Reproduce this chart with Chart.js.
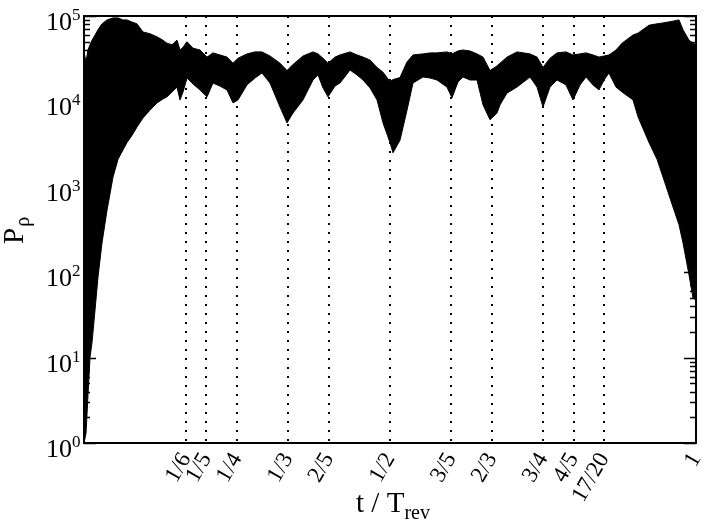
<!DOCTYPE html>
<html>
<head>
<meta charset="utf-8">
<script src="https://cdn.jsdelivr.net/npm/chart.js@4"></script>
<style>
  html, body { margin: 0; padding: 0; background: #fff; }
  #wrap { width: 706px; height: 522px; }
</style>
</head>
<body>
<div id="wrap"><canvas id="chart" width="706" height="522"></canvas></div>
<script>
// t / T_rev sample positions
const tVals = [0, 0.0033, 0.0065, 0.0098, 0.0131, 0.018, 0.0229, 0.0294, 0.0376, 0.0474,
  0.0556, 0.0637, 0.0703, 0.0784, 0.0866, 0.0964, 0.1078, 0.1193, 0.1291, 0.1356,
  0.1438, 0.152, 0.1569, 0.1618, 0.1683, 0.1781, 0.1895, 0.201, 0.2108, 0.2222,
  0.2337, 0.2435, 0.2516, 0.2663, 0.2794, 0.2908, 0.3039, 0.3203, 0.3317, 0.3415,
  0.3578, 0.3742, 0.3824, 0.3905, 0.3987, 0.4101, 0.4183, 0.4346, 0.4461, 0.4559,
  0.4673, 0.4788, 0.4886, 0.5, 0.5049, 0.5163, 0.5278, 0.5376, 0.5539, 0.5654,
  0.5768, 0.5931, 0.6013, 0.6111, 0.6193, 0.6307, 0.6422, 0.652, 0.6634, 0.6748,
  0.6797, 0.6912, 0.7075, 0.7288, 0.7402, 0.75, 0.7614, 0.7729, 0.7876, 0.799,
  0.8105, 0.8203, 0.8317, 0.8415, 0.8497, 0.8578, 0.8693, 0.8791, 0.8971, 0.9052,
  0.9232, 0.9363, 0.9461, 0.9624, 0.9722, 0.9788, 0.9886, 0.9951, 1];

// upper envelope of P_rho
const upperVals = [38000, 29000, 40000, 46000, 52000, 60000, 69000, 81000, 90000, 95000,
  95000, 90000, 90000, 85000, 81000, 65000, 62000, 57000, 52000, 48000,
  46000, 52000, 40000, 43000, 50000, 42000, 40000, 33000, 37000, 35000,
  33000, 28000, 32000, 36000, 38000, 38000, 34000, 28000, 23000, 27000,
  34000, 38000, 36000, 32000, 28000, 33000, 35000, 38000, 35000, 33000,
  30500, 25000, 22000, 17000, 18000, 19000, 29000, 35000, 36000, 37000,
  37000, 38000, 36000, 39000, 40000, 39000, 36000, 33000, 23000, 26000,
  28000, 33000, 38000, 36000, 33000, 25000, 32000, 37000, 38000, 35000,
  36000, 37000, 35000, 33000, 34000, 35000, 40000, 48000, 60000, 63000,
  78000, 81000, 83000, 87000, 90000, 69000, 52000, 48000, 46000];

// lower envelope of P_rho
const lowerVals = [1, 1.3, 3.6, 10, 15, 36, 88, 220, 530, 1300,
  2100, 2700, 3300, 4000, 5000, 6400, 7900, 9600, 10700, 11300,
  12900, 14700, 10400, 12900, 18800, 16000, 13600, 11300, 16400, 15100,
  13600, 9600, 10400, 15600, 18800, 21500, 16400, 8600, 5600, 7300,
  10400, 17800, 20400, 14400, 11300, 15100, 16400, 23300, 20400, 17800,
  14400, 10400, 5600, 3300, 2500, 3500, 7900, 16400, 19300, 18800,
  17800, 14700, 11000, 16900, 19300, 17800, 17800, 9100, 6100, 7300,
  9100, 12500, 14700, 19300, 14700, 8600, 14700, 17800, 15600, 10400,
  15600, 19300, 15600, 13600, 17800, 21500, 14700, 12900, 10400, 6600,
  3300, 2100, 1300, 580, 360, 220, 93, 50, 47];

// fractional revival times (dotted lines) and their labels
const fracTicks = [1/6, 1/5, 1/4, 1/3, 2/5, 1/2, 3/5, 2/3, 3/4, 4/5, 17/20, 1];
const fracLabels = ['1/6', '1/5', '1/4', '1/3', '2/5', '1/2', '3/5', '2/3', '3/4', '4/5', '17/20', '1'];

// decades on the y axis
const yExps = [0, 1, 2, 3, 4, 5];

const SERIF = '"Liberation Serif", "DejaVu Serif", serif';

const frame = {
    id: 'frame',
    afterDraw(chart) {
        const ctx = chart.ctx;
        const a = chart.chartArea;
        const y = chart.scales.y;
        ctx.save();
        ctx.strokeStyle = '#000';
        ctx.fillStyle = '#000';

        // minor + major ticks on both sides, pointing inwards
        ctx.lineWidth = 1.5;
        yExps.forEach(e => {
            for (let m = 1; m <= 9; m++) {
                if (e === 5 && m > 1) break;
                const py = Math.round(y.getPixelForValue(m * Math.pow(10, e))) + 0.5;
                const len = m === 1 ? 12 : 6;
                ctx.beginPath();
                ctx.moveTo(a.left, py); ctx.lineTo(a.left + len, py);
                ctx.moveTo(a.right, py); ctx.lineTo(a.right - len, py);
                ctx.stroke();
            }
        });

        // box
        ctx.lineWidth = 2;
        ctx.strokeRect(a.left, a.top, a.right - a.left, a.bottom - a.top);

        // y tick labels 10^k
        yExps.forEach(e => {
            const py = y.getPixelForValue(Math.pow(10, e));
            ctx.font = '26px ' + SERIF;
            ctx.textAlign = 'right';
            ctx.textBaseline = 'alphabetic';
            ctx.fillText('10', 72, py + 14);
            ctx.font = '17px ' + SERIF;
            ctx.textAlign = 'left';
            ctx.fillText(String(e), 72, py + 4);
        });

        // y title P_rho
        ctx.save();
        ctx.translate(23, 244);
        ctx.rotate(-Math.PI / 2);
        ctx.textAlign = 'left';
        ctx.font = '29px ' + SERIF;
        ctx.fillText('P', 0, 0);
        const pw = ctx.measureText('P').width;
        ctx.font = '20px ' + SERIF;
        ctx.fillText('\u03c1', pw + 1, 6);
        ctx.restore();

        // x title t / T_rev
        ctx.font = '29px ' + SERIF;
        ctx.textAlign = 'left';
        const main = 't / T';
        const mw = ctx.measureText(main).width;
        ctx.font = '20px ' + SERIF;
        const sw = ctx.measureText('rev').width;
        const x0 = 393 - (mw + sw) / 2;
        ctx.font = '29px ' + SERIF;
        ctx.fillText(main, x0, 512);
        ctx.font = '20px ' + SERIF;
        ctx.fillText('rev', x0 + mw, 519);
        ctx.restore();
    }
};

document.addEventListener('DOMContentLoaded', () => {
    const lower = tVals.map((t, i) => ({ x: t, y: lowerVals[i] }));
    const upper = tVals.map((t, i) => ({ x: t, y: upperVals[i] }));

    new Chart(document.getElementById('chart').getContext('2d'), {
        type: 'line',
        data: {
            datasets: [{
                data: lower,
                borderColor: '#000',
                borderWidth: 1,
                pointRadius: 0,
                fill: false,
                tension: 0
            }, {
                data: upper,
                borderColor: '#000',
                borderWidth: 1,
                backgroundColor: '#000',
                pointRadius: 0,
                fill: '-1',
                tension: 0
            }]
        },
        options: {
            responsive: false,
            animation: false,
            devicePixelRatio: 1,
            layout: { padding: { top: 16, right: 10, left: 0, bottom: 0 } },
            plugins: {
                legend: { display: false },
                tooltip: { enabled: false }
            },
            scales: {
                x: {
                    type: 'linear',
                    min: 0,
                    max: 1,
                    afterBuildTicks: scale => {
                        scale.ticks = fracTicks.map(v => ({ value: v }));
                    },
                    afterFit: scale => {
                        scale.height = 79;
                        scale.paddingLeft = 0;
                        scale.paddingRight = 0;
                    },
                    ticks: {
                        autoSkip: false,
                        minRotation: 60,
                        maxRotation: 60,
                        padding: 5,
                        color: '#000',
                        font: { family: SERIF, size: 23 },
                        callback: (v, i) => fracLabels[i]
                    },
                    grid: {
                        color: '#000',
                        lineWidth: 2,
                        drawTicks: false
                    },
                    border: { display: false, dash: [2, 7] }
                },
                y: {
                    type: 'logarithmic',
                    min: 1,
                    max: 100000,
                    afterFit: scale => { scale.width = 84; },
                    ticks: { display: false },
                    grid: { display: false },
                    border: { display: false }
                }
            }
        },
        plugins: [frame]
    });
});
</script>
</body>
</html>
